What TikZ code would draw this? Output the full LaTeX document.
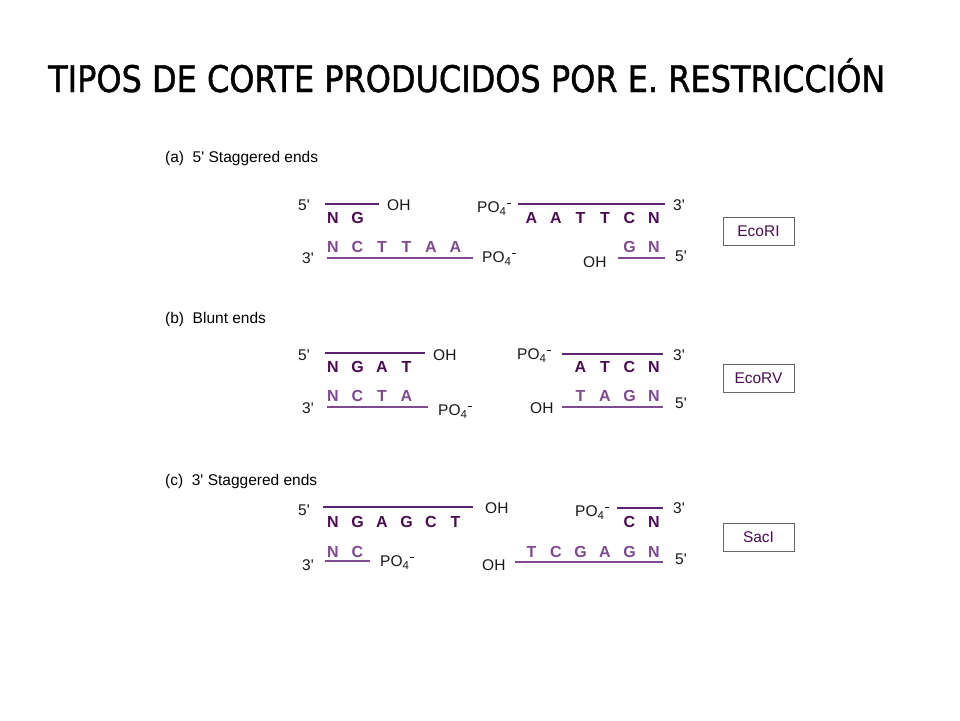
\documentclass[tikz,border=0pt]{standalone}
\usepackage{fontspec}
\setmainfont{Liberation Sans}
\newfontfamily\titlefont[FakeBold=1.2]{DejaVu Sans}
\definecolor{dpurple}{HTML}{4A0D52}
\definecolor{lpurple}{HTML}{7E4A90}
\definecolor{lnpurple}{HTML}{5C2470}
\newcommand\pr{\textquotesingle}
\newcommand\phos{PO\raisebox{-3.5pt}{\fontsize{11.5}{12}\selectfont 4}\hspace{1pt}\raisebox{8.5pt}{\rule{4.5pt}{0.9pt}}}
\newcommand\strandseq[5]{%
  \foreach \l [count=\i from 0] in {#5} {\node[#4] (#1\i) at ({#2+24.5*\i},#3) {\l};}}
\tikzset{
  lbl/.style={font=\fontsize{15.5}{17}\selectfont, inner sep=0pt, anchor=base west, text=black!90},
  sec/.style={font=\fontsize{15.5}{17}\selectfont, inner sep=0pt, anchor=base west, text=black},
  topL/.style={font=\fontsize{16}{17}\selectfont\bfseries, text=dpurple, inner sep=0pt, anchor=center},
  botL/.style={font=\fontsize{16}{17}\selectfont\bfseries, text=lpurple, inner sep=0pt, anchor=center},
  topline/.style={draw=lnpurple, line width=1.5pt},
  botline/.style={draw=lpurple, line width=1.5pt},
  enz/.style={draw=black!60, line width=0.8pt, minimum width=71pt, minimum height=28pt, inner sep=0pt,
              text=dpurple, font=\fontsize{15.5}{16}\selectfont}
}
\begin{document}
\begin{tikzpicture}[x=1pt,y=-1pt]
\useasboundingbox (0,0) rectangle (960,720);
\fill[white] (0,0) rectangle (960,720);
\node[anchor=base west, inner sep=0pt] (title) at (48,92)
  {\resizebox{837pt}{34pt}{\titlefont TIPOS DE CORTE PRODUCIDOS POR E. RESTRICCIÓN}};

% ---------------- (a)
\node[sec] (la) at (165,162) {(a)\ \ 5\pr{} Staggered ends};
\node[lbl] (a5t) at (298,210) {5\pr};
\draw[topline] (325,204) -- (379,204);
\node[lbl] (aOHt) at (387,210) {OH};
\node[lbl] (aPOt) at (477,212) {\phos};
\draw[topline] (518,204) -- (665,204);
\node[lbl] (a3t) at (673,210) {3\pr};
\strandseq{atl}{333}{217.5}{topL}{N,G}
\strandseq{atr}{531.5}{217.5}{topL}{A,A,T,T,C,N}
\node[lbl] (a3b) at (302,263) {3\pr};
\strandseq{abl}{333}{246.5}{botL}{N,C,T,T,A,A}
\draw[botline] (327,258) -- (473,258);
\node[lbl] (aPOb) at (482,262) {\phos};
\node[lbl] (aOHb) at (583,267) {OH};
\strandseq{abr}{629.5}{246.5}{botL}{G,N}
\draw[botline] (618,258) -- (665,258);
\node[lbl] (a5b) at (675,261) {5\pr};
\node[enz] (ecori) at (758.5,231) {EcoRI};

% ---------------- (b)
\node[sec] (lb) at (165,323) {(b)\ \ Blunt ends};
\node[lbl] (b5t) at (298,360) {5\pr};
\draw[topline] (325,353) -- (425,353);
\node[lbl] (bOHt) at (433,360) {OH};
\node[lbl] (bPOt) at (517,359) {\phos};
\draw[topline] (562,354) -- (663,354);
\node[lbl] (b3t) at (673,360) {3\pr};
\strandseq{btl}{333}{366.5}{topL}{N,G,A,T}
\strandseq{btr}{580.5}{366.5}{topL}{A,T,C,N}
\node[lbl] (b3b) at (302,413) {3\pr};
\strandseq{bbl}{333}{396}{botL}{N,C,T,A}
\draw[botline] (327,407) -- (428,407);
\node[lbl] (bPOb) at (438,415) {\phos};
\node[lbl] (bOHb) at (530,413) {OH};
\strandseq{bbr}{580.5}{396}{botL}{T,A,G,N}
\draw[botline] (562,407) -- (663,407);
\node[lbl] (b5b) at (675,408) {5\pr};
\node[enz] (ecorv) at (758.5,378) {EcoRV};

% ---------------- (c)
\node[sec] (lc) at (165,485) {(c)\ \ 3\pr{} Staggered ends};
\node[lbl] (c5t) at (298,515) {5\pr};
\draw[topline] (323,507) -- (473,507);
\node[lbl] (cOHt) at (485,513) {OH};
\node[lbl] (cPOt) at (575,516) {\phos};
\draw[topline] (617,508) -- (663,508);
\node[lbl] (c3t) at (673,513) {3\pr};
\strandseq{ctl}{333}{521.5}{topL}{N,G,A,G,C,T}
\strandseq{ctr}{629.5}{521.5}{topL}{C,N}
\node[lbl] (c3b) at (302,570) {3\pr};
\strandseq{cbl}{333}{551.5}{botL}{N,C}
\draw[botline] (325,561) -- (370,561);
\node[lbl] (cPOb) at (380,566) {\phos};
\node[lbl] (cOHb) at (482,570) {OH};
\strandseq{cbr}{531.5}{551.5}{botL}{T,C,G,A,G,N}
\draw[botline] (515,562) -- (663,562);
\node[lbl] (c5b) at (675,564) {5\pr};
\node[enz] (sacl) at (758.5,537.5) {SacI};
\end{tikzpicture}
\end{document}
